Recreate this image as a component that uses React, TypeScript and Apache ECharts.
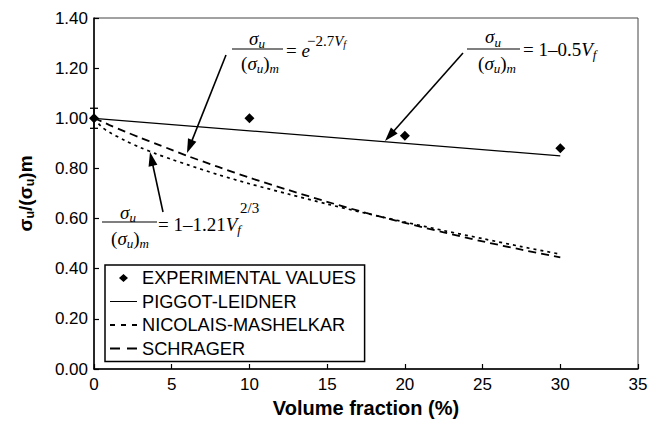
import React, { useEffect, useRef } from "react";
import * as echarts from "echarts";

// ---- data ----
const volumeFraction = [0, 0.5, 1, 2, 3, 4, 5, 6, 8, 10, 12.5, 15, 17.5, 20, 22.5, 25, 27.5, 30];
const nicolaisMashelkar = [1.0, 0.965, 0.944, 0.911, 0.883, 0.858, 0.836, 0.815, 0.775, 0.739, 0.698, 0.658, 0.621, 0.586, 0.552, 0.52, 0.488, 0.458];
const schrager = [1.0, 0.987, 0.973, 0.947, 0.922, 0.898, 0.874, 0.85, 0.806, 0.763, 0.714, 0.667, 0.623, 0.583, 0.545, 0.509, 0.476, 0.445];
const piggotX = [0, 30];
const piggotY = [1.0, 0.85];
const expX = [0, 10, 20, 30];
const expY = [1.0, 1.0, 0.93, 0.88];
const errX = [0];
const errLow = [0.96];
const errHigh = [1.04];

const legendNames = ["EXPERIMENTAL VALUES", "PIGGOT-LEIDNER", "NICOLAIS-MASHELKAR", "SCHRAGER"];
const xAxisTitle = "Volume fraction (%)";

const SANS = "'Liberation Sans', Arial, Helvetica, sans-serif";
const SERIF = "'Liberation Serif', 'Times New Roman', serif";

const eqRich: any = {
  i: { fontFamily: SERIF, fontStyle: "italic", fontSize: 19, lineHeight: 24, fill: "#000" },
  n: { fontFamily: SERIF, fontSize: 19, lineHeight: 24, fill: "#000" },
  sb: { fontFamily: SERIF, fontStyle: "italic", fontSize: 13, lineHeight: 13, verticalAlign: "bottom", fill: "#000" },
  spn: { fontFamily: SERIF, fontSize: 15, lineHeight: 16, fill: "#000" },
  spi: { fontFamily: SERIF, fontStyle: "italic", fontSize: 15, lineHeight: 16, fill: "#000" },
  sps: { fontFamily: SERIF, fontStyle: "italic", fontSize: 10, lineHeight: 10, verticalAlign: "bottom", fill: "#000" },
};

function txt(x: number, y: number, text: string, align = "center") {
  return {
    type: "text",
    x,
    y,
    z: 100,
    style: { text, rich: eqRich, align, verticalAlign: "middle", fontFamily: SERIF, fontSize: 19, fill: "#000" },
  };
}

function bar(x1: number, x2: number, y: number) {
  return { type: "line", z: 100, shape: { x1, y1: y, x2, y2: y }, style: { stroke: "#000", lineWidth: 1.1 } };
}

function arrow(sx: number, sy: number, tx: number, ty: number) {
  const len = 14;
  const half = 4.5;
  const dx = tx - sx;
  const dy = ty - sy;
  const d = Math.hypot(dx, dy);
  const ux = dx / d;
  const uy = dy / d;
  const bx = tx - ux * len;
  const by = ty - uy * len;
  const px = -uy;
  const py = ux;
  return [
    { type: "line", z: 100, shape: { x1: sx, y1: sy, x2: bx + ux * 2, y2: by + uy * 2 }, style: { stroke: "#000", lineWidth: 1.6 } },
    {
      type: "polygon",
      z: 100,
      shape: { points: [[tx, ty], [bx + px * half, by + py * half], [bx - px * half, by - py * half]] },
      style: { fill: "#000" },
    },
  ];
}

const NUM = "{i|σ}{sb|u}";
const DEN = "{n|(}{i|σ}{sb|u}{n|)}{sb|m}";

// legend icons, each with a 27 x 9 bounding box so they are not distorted
const BOUNDS = " M0,0 L0.01,0 M27,9 L27.01,9";
const DIAMOND_ICON = "path://M13.5,0.5 L18,4.5 L13.5,8.5 L9,4.5 Z" + BOUNDS;
const SOLID_ICON = "path://M0,3.9 h27 v1.2 h-27 Z" + BOUNDS;
const DOTTED_ICON = "path://M0,3.5 h5 v2 h-5 Z M11,3.5 h5 v2 h-5 Z M22,3.5 h5 v2 h-5 Z" + BOUNDS;
const DASHED_ICON = "path://M0,3.4 h10 v2.2 h-10 Z M17,3.4 h10 v2.2 h-10 Z" + BOUNDS;

export default function App() {
  const ref = useRef<HTMLDivElement>(null);

  useEffect(() => {
    if (!ref.current) return;
    const chart = echarts.init(ref.current, null, { renderer: "svg" });

    const option: any = {
      animation: false,
      backgroundColor: "#fff",
      grid: {
        left: 94,
        top: 18,
        right: 19,
        bottom: 55,
        show: true,
        borderColor: "#444",
        borderWidth: 1,
        outerBoundsMode: "none",
      },
      xAxis: {
        type: "value",
        min: 0,
        max: 35,
        interval: 5,
        name: xAxisTitle,
        nameLocation: "middle",
        nameGap: 29,
        nameMoveOverlap: false,
        nameTextStyle: { color: "#000", fontWeight: "bold", fontSize: 20, fontFamily: SANS },
        axisLine: { show: true, onZero: false, lineStyle: { color: "#000", width: 1.5 } },
        axisTick: { show: true, inside: true, length: 5, lineStyle: { color: "#000", width: 1.2 } },
        axisLabel: { color: "#000", fontSize: 17, fontFamily: SANS, margin: 7, showMinLabel: true, showMaxLabel: true },
        splitLine: { show: false },
      },
      yAxis: {
        type: "value",
        min: 0,
        max: 1.4,
        interval: 0.2,
        name: "{b|σ}{s|u}{b|/(σ}{s|u}{b|)m}",
        nameLocation: "middle",
        nameGap: 58,
        nameRotate: 90,
        nameMoveOverlap: false,
        nameTextStyle: {
          color: "#000",
          fontWeight: "bold",
          fontSize: 19,
          fontFamily: SANS,
          rich: {
            b: { fontWeight: "bold", fontSize: 19, lineHeight: 22, fontFamily: SANS, color: "#000" },
            s: { fontWeight: "bold", fontSize: 12.5, lineHeight: 12, verticalAlign: "bottom", fontFamily: SANS, color: "#000" },
          },
        },
        axisLine: { show: true, onZero: false, lineStyle: { color: "#000", width: 1.5 } },
        axisTick: { show: true, inside: true, length: 5, lineStyle: { color: "#000", width: 1.2 } },
        axisLabel: {
          color: "#000",
          fontSize: 17,
          fontFamily: SANS,
          margin: 6,
          showMinLabel: true,
          showMaxLabel: true,
          formatter: (v: number) => v.toFixed(2),
        },
        splitLine: { show: false },
      },
      legend: {
        orient: "vertical",
        left: 105,
        top: 265,
        padding: [3, 8, 3, 5],
        itemGap: 3.5,
        itemWidth: 27,
        itemHeight: 9,
        borderColor: "#000",
        borderWidth: 1.5,
        backgroundColor: "#fff",
        selectedMode: false,
        textStyle: { fontSize: 18.2, fontFamily: SANS, color: "#000", lineHeight: 20 },
        data: [
          { name: legendNames[0], icon: DIAMOND_ICON, itemStyle: { color: "#000", opacity: 1, borderWidth: 0 } },
          { name: legendNames[1], icon: SOLID_ICON, itemStyle: { color: "#000", opacity: 1, borderWidth: 0 } },
          { name: legendNames[2], icon: DOTTED_ICON, itemStyle: { color: "#000", opacity: 1, borderWidth: 0 } },
          { name: legendNames[3], icon: DASHED_ICON, itemStyle: { color: "#000", opacity: 1, borderWidth: 0 } },
        ],
      },
      series: [
        {
          name: legendNames[1],
          type: "line",
          data: piggotX.map((x, i) => [x, piggotY[i]]),
          symbol: "none",
          itemStyle: { color: "#000" },
          lineStyle: { color: "#000", width: 1.3 },
          z: 3,
        },
        {
          name: legendNames[2],
          type: "line",
          data: volumeFraction.map((x, i) => [x, nicolaisMashelkar[i]]),
          symbol: "none",
          smooth: 0.3,
          itemStyle: { color: "#000" },
          lineStyle: { color: "#000", width: 1.7, type: [3, 4] },
          z: 3,
        },
        {
          name: legendNames[3],
          type: "line",
          data: volumeFraction.map((x, i) => [x, schrager[i]]),
          symbol: "none",
          smooth: 0.3,
          itemStyle: { color: "#000" },
          lineStyle: { color: "#000", width: 1.8, type: [8, 5] },
          z: 3,
        },
        {
          name: legendNames[0],
          type: "scatter",
          data: expX.map((x, i) => [x, expY[i]]),
          symbol: "diamond",
          symbolSize: 10,
          itemStyle: { color: "#000", opacity: 1 },
          clip: false,
          z: 5,
        },
        {
          name: "error",
          type: "custom",
          data: errX.map((x, i) => [x, errLow[i], errHigh[i]]),
          encode: { x: 0, y: [1, 2] },
          z: 4,
          renderItem: (_params: any, api: any) => {
            const lo = api.coord([api.value(0), api.value(1)]);
            const hi = api.coord([api.value(0), api.value(2)]);
            const cap = 4;
            const st = { stroke: "#000", lineWidth: 1.3 };
            return {
              type: "group",
              children: [
                { type: "line", shape: { x1: lo[0], y1: lo[1], x2: hi[0], y2: hi[1] }, style: st },
                { type: "line", shape: { x1: lo[0] - cap, y1: lo[1], x2: lo[0] + cap, y2: lo[1] }, style: st },
                { type: "line", shape: { x1: hi[0] - cap, y1: hi[1], x2: hi[0] + cap, y2: hi[1] }, style: st },
              ],
            };
          },
        },
      ],
      graphic: [
        // equation 1 : exponential (Schrager)
        txt(257, 38, NUM),
        bar(232, 283, 49),
        txt(260, 63, DEN),
        txt(286, 50, "{n|=}{i| e}", "left"),
        txt(307, 41, "{spn|−2.7}{spi|V}{sps|f}", "left"),
        ...arrow(226, 55, 187, 153),
        // equation 2 : Piggot-Leidner
        txt(493, 36.5, NUM),
        bar(467, 520, 49),
        txt(497, 63, DEN),
        txt(523, 49, "{n|= 1–0.5}{i|V}{sb|f}", "left"),
        ...arrow(463, 53, 385, 141),
        // equation 3 : Nicolais-Mashelkar
        txt(128, 212, NUM),
        bar(102, 157, 222),
        txt(130, 238, DEN),
        txt(158, 224, "{n|= 1–1.21}{i|V}{sb|f}", "left"),
        txt(240, 208, "{spn|2/3}", "left"),
        ...arrow(163, 212, 150, 152),
      ],
    };

    chart.setOption(option);
    return () => chart.dispose();
  }, []);

  return (
    <div
      ref={ref}
      style={{ position: "absolute", left: 0, top: 0, width: 657, height: 424, background: "#fff" }}
    />
  );
}
